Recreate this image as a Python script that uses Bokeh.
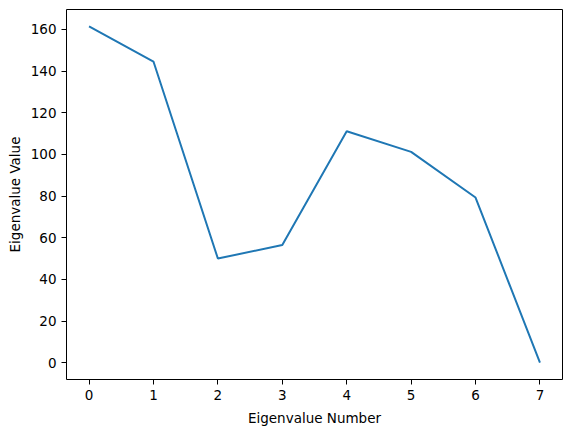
from bokeh.plotting import figure
from bokeh.models import Range1d, FixedTicker
from bokeh.embed import file_html
from bokeh.resources import INLINE

eigen_number = [0, 1, 2, 3, 4, 5, 6, 7]
eigen_value = [161.5, 144.6, 50.0, 56.5, 111.1, 101.2, 79.3, 0.0]
x_ticks = [0, 1, 2, 3, 4, 5, 6, 7]
y_ticks = [0, 20, 40, 60, 80, 100, 120, 140, 160]

ymin, ymax = min(eigen_value), max(eigen_value)
ypad = 0.05 * (ymax - ymin)
xpad = 0.05 * (max(eigen_number) - min(eigen_number))

p = figure(width=563, height=428, output_backend="svg", toolbar_location=None,
           x_range=Range1d(min(eigen_number) - xpad, max(eigen_number) + xpad),
           y_range=Range1d(ymin - ypad, ymax + ypad),
           min_border_left=66, min_border_right=1, min_border_top=9, min_border_bottom=49)

p.line(eigen_number, eigen_value, line_color="#1f77b4", line_width=2)

p.xgrid.visible = False
p.ygrid.visible = False
p.outline_line_color = "black"
p.outline_line_width = 1
p.outline_line_alpha = 1

p.xaxis.ticker = FixedTicker(ticks=x_ticks)
p.yaxis.ticker = FixedTicker(ticks=y_ticks)
p.xaxis.axis_label = "Eigenvalue Number"
p.yaxis.axis_label = "Eigenvalue Value"

for ax in (p.xaxis[0], p.yaxis[0]):
    ax.axis_line_color = None
    ax.major_tick_line_color = "black"
    ax.major_tick_line_width = 1
    ax.major_tick_out = 5
    ax.major_tick_in = 0
    ax.minor_tick_line_color = None
    ax.major_label_text_font = "DejaVu Sans"
    ax.major_label_text_font_size = "13.5px"
    ax.major_label_text_color = "black"
    ax.axis_label_text_font = "DejaVu Sans"
    ax.axis_label_text_font_size = "13.5px"
    ax.axis_label_text_font_style = "normal"
    ax.axis_label_text_color = "black"
    ax.major_label_standoff = 5

p.xaxis.axis_label_standoff = 7
p.yaxis.axis_label_standoff = 5

open("out.html", "w").write(file_html(p, INLINE))
